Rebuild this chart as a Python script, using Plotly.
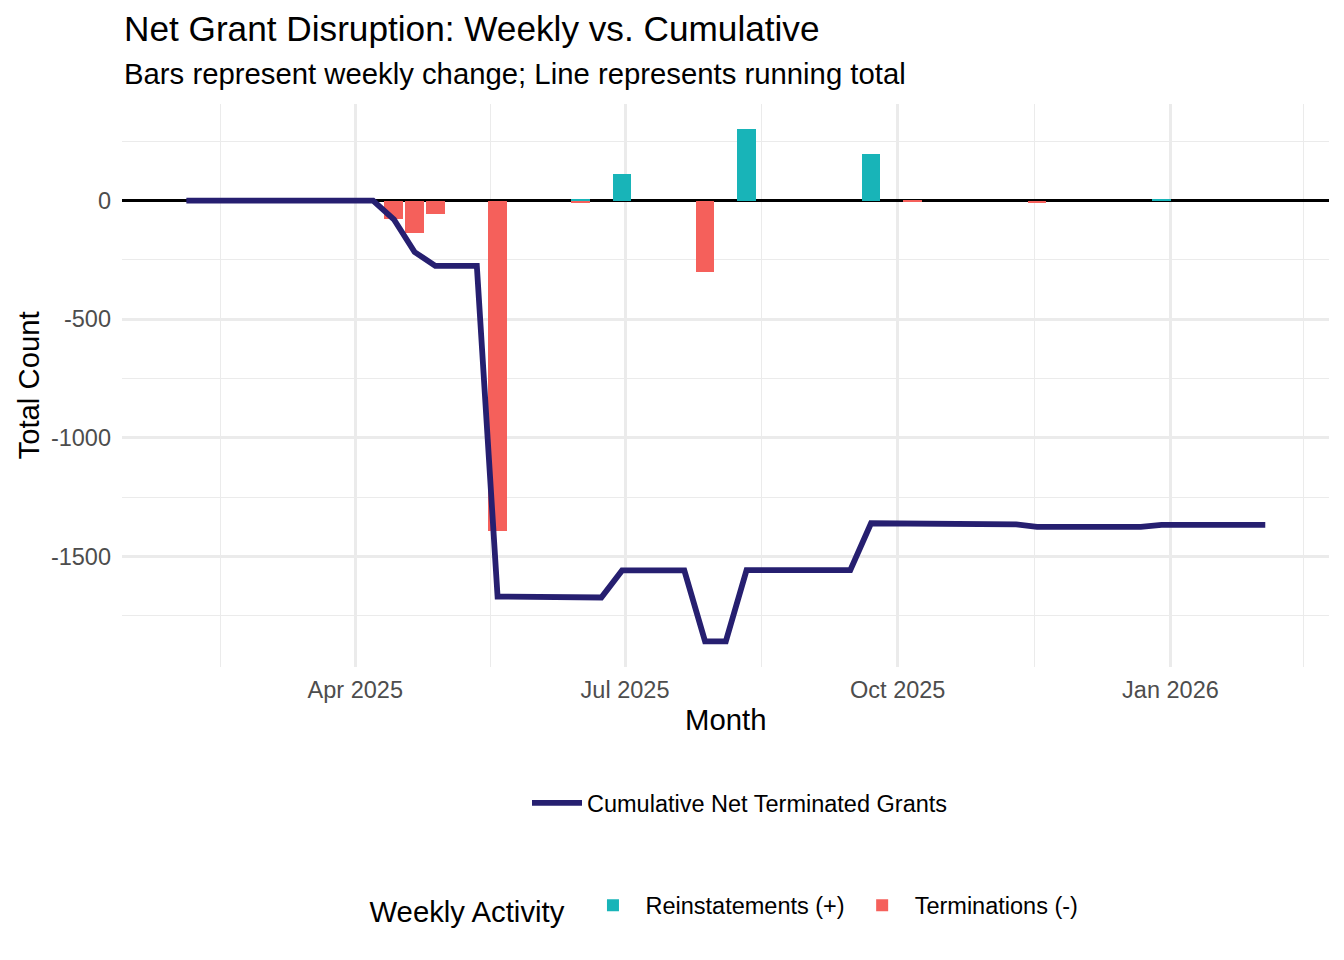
import numpy as np
import pandas as pd
import plotly.graph_objects as go

# ---- data (weekly, Mondays) ----
weeks = pd.date_range("2025-02-03", "2026-02-02", freq="7D")
reinstatements = [0, 0, 0, 0, 0, 0, 0, 0, 0, 0,
                  0, 0, 0, 0, 0, 0, 0, 0, 0, 8,
                  0, 114, 0, 0, 0, 0, 0, 300, 0, 0,
                  0, 0, 0, 198, 0, 0, 0, 0, 0, 0,
                  0, 0, 0, 0, 0, 0, 0, 8, 0, 0,
                  0, 0, 0]
terminations = [0, 0, 0, 0, 0, 0, 0, 0, 0, 0,
                -79, -138, -58, 0, 0, -1394, 0, 0, 0, -12,
                0, 0, 0, 0, 0, -299, 0, 0, 0, 0,
                0, 0, 0, 0, 0, -5, 0, 0, 0, 0,
                0, -10, 0, 0, 0, 0, 0, 0, 0, 0,
                0, 0, 0]
cumulative = np.cumsum(np.array(reinstatements) + np.array(terminations))

x_tick_vals = ["2025-04-01", "2025-07-01", "2025-10-01", "2026-01-01"]
x_tick_text = ["Apr 2025", "Jul 2025", "Oct 2025", "Jan 2026"]
x_minor_vals = ["2025-02-14 12:00", "2025-05-16 12:00", "2025-08-16",
                "2025-11-16", "2026-02-15"]
y_tick_vals = [0, -500, -1000, -1500]
y_tick_text = ["0", "-500", "-1000", "-1500"]

FONT = "Liberation Sans, Arial, Helvetica, sans-serif"
TEAL = "#18B4B8"
RED = "#F5605B"
NAVY = "#261F70"
GRID = "#EBEBEB"

bar_width_ms = 0.9 * 7 * 24 * 3600 * 1000

fig = go.Figure()
fig.add_trace(go.Bar(x=weeks, y=reinstatements, name="Reinstatements (+)",
                     marker=dict(color=TEAL, line=dict(width=0)),
                     width=bar_width_ms, legend="legend2"))
fig.add_trace(go.Bar(x=weeks, y=terminations, name="Terminations (-)",
                     marker=dict(color=RED, line=dict(width=0)),
                     width=bar_width_ms, legend="legend2"))
fig.add_trace(go.Scatter(x=weeks, y=cumulative, mode="lines",
                         name="Cumulative Net Terminated Grants",
                         line=dict(color=NAVY, width=5.8), legend="legend"))

H_PLOT_TOP, H_PLOT_BOT = 104, 667
L_PLOT, R_PLOT = 122, 1329
def py(pix):
    return (H_PLOT_BOT - pix) / (H_PLOT_BOT - H_PLOT_TOP)
def px(pix):
    return (pix - L_PLOT) / (R_PLOT - L_PLOT)

fig.update_layout(
    width=1344, height=960,
    margin=dict(l=L_PLOT, r=1344 - R_PLOT, t=H_PLOT_TOP, b=960 - H_PLOT_BOT, autoexpand=False),
    paper_bgcolor="white", plot_bgcolor="white",
    barmode="relative", bargap=0,
    font=dict(family=FONT, color="black"),
    xaxis=dict(
        type="date", range=["2025-01-12 07:00", "2026-02-23 12:00"],
        tickmode="array", tickvals=x_tick_vals, ticktext=x_tick_text,
        tickfont=dict(size=23.5, color="#4D4D4D"),
        showgrid=True, gridcolor=GRID, gridwidth=2.8,
        minor=dict(tickvals=x_minor_vals, showgrid=True, gridcolor=GRID, gridwidth=1.4),
        showline=False, zeroline=False, ticks="", ticklabelstandoff=6,
        automargin=False,
    ),
    yaxis=dict(
        range=[-1966, 407],
        tickmode="array", tickvals=y_tick_vals, ticktext=y_tick_text,
        tickfont=dict(size=23.5, color="#4D4D4D"),
        showgrid=True, gridcolor=GRID, gridwidth=2.8,
        minor=dict(dtick=250, tick0=0, showgrid=True, gridcolor=GRID, gridwidth=1.4),
        showline=False, zeroline=True, zerolinecolor="black", zerolinewidth=2.5,
        ticks="", ticklabelstandoff=10,
        automargin=False,
    ),
    legend=dict(orientation="h", x=px(740), xanchor="center", y=py(803), yanchor="middle",
                font=dict(size=23.5, color="black"), bgcolor="rgba(0,0,0,0)",
                itemwidth=50),
    legend2=dict(orientation="h", x=0.5, xanchor="center", y=py(908), yanchor="middle",
                 font=dict(size=23.5, color="black"), bgcolor="rgba(0,0,0,0)",
                 itemwidth=55,
                 title=dict(text="Weekly Activity ", side="left",
                            font=dict(size=29.3, color="black"))),
    showlegend=True,
    annotations=[
        dict(text="Net Grant Disruption: Weekly vs. Cumulative", xref="paper", yref="paper",
             x=0, y=py(28), xanchor="left", yanchor="middle", showarrow=False,
             font=dict(size=35.2, color="black", family=FONT)),
        dict(text="Bars represent weekly change; Line represents running total",
             xref="paper", yref="paper", x=0, y=py(73), xanchor="left", yanchor="middle",
             showarrow=False, font=dict(size=29.3, color="black", family=FONT)),
        dict(text="Month", xref="paper", yref="paper", x=0.5, y=py(720),
             xanchor="center", yanchor="middle", showarrow=False,
             font=dict(size=29.3, color="black", family=FONT)),
        dict(text="Total Count", xref="paper", yref="paper", x=px(28), y=0.5,
             xanchor="center", yanchor="middle", textangle=-90, showarrow=False,
             font=dict(size=29.3, color="black", family=FONT)),
    ],
)

fig.write_html("out.html", config={"displayModeBar": False},
               post_script="document.body.style.margin='0';document.body.style.padding='0';")
